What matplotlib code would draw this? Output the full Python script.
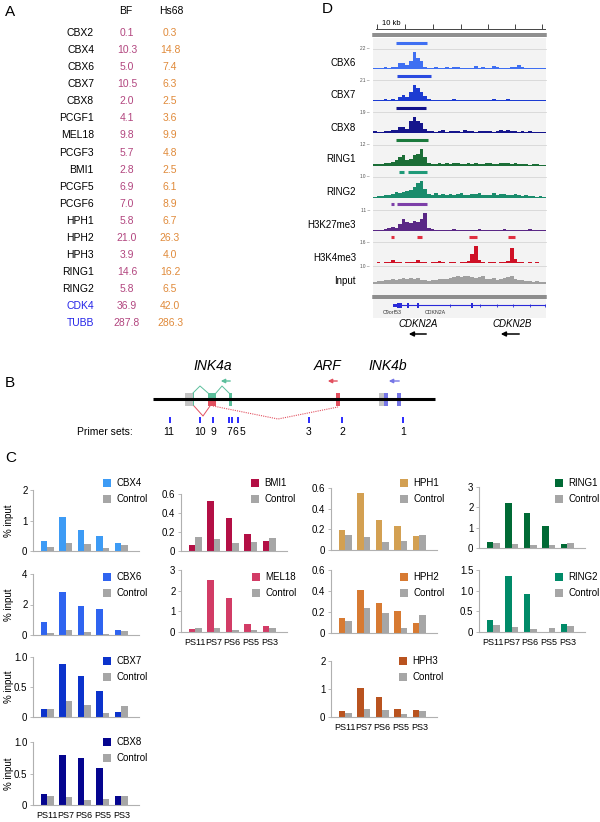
import numpy as np
import matplotlib
matplotlib.use('Agg')
import matplotlib.pyplot as plt
from matplotlib.patches import Rectangle, Patch

plt.rcParams['font.family'] = ['Liberation Sans', 'DejaVu Sans']

W, H = 600, 822

# ---- panel A: table of values
a_genes = ['CBX2', 'CBX4', 'CBX6', 'CBX7', 'CBX8', 'PCGF1', 'MEL18', 'PCGF3', 'BMI1',
           'PCGF5', 'PCGF6', 'HPH1', 'HPH2', 'HPH3', 'RING1', 'RING2', 'CDK4', 'TUBB']
a_bf = [0.1, 10.3, 5.0, 10.5, 2.0, 4.1, 9.8, 5.7, 2.8, 6.9, 7.0, 5.8, 21.0, 3.9, 14.6, 5.8, 36.9, 287.8]
a_hs68 = [0.3, 14.8, 7.4, 6.3, 2.5, 3.6, 9.9, 4.8, 2.5, 6.1, 8.9, 6.7, 26.3, 4.0, 16.2, 6.5, 42.0, 286.3]

# ---- panel B: locus cartoon
b_primers = ['11', '10', '9', '7', '6', '5', '3', '2', '1']
b_primer_x = [170, 200, 213, 229, 232, 238, 309, 342, 403]
b_primer_lab_x = [169, 200, 213, 229, 235, 242, 309, 342, 403]

# ---- panel C: ChIP, % input
ps_labels = ['PS11', 'PS7', 'PS6', 'PS5', 'PS3']
cbx4 = [0.32, 1.10, 0.68, 0.48, 0.25]
cbx4_ctrl = [0.13, 0.25, 0.22, 0.11, 0.19]
cbx6 = [0.88, 2.84, 1.88, 1.72, 0.30]
cbx6_ctrl = [0.12, 0.30, 0.22, 0.07, 0.23]
cbx7 = [0.14, 0.88, 0.69, 0.43, 0.09]
cbx7_ctrl = [0.14, 0.27, 0.20, 0.07, 0.18]
cbx8 = [0.17, 0.79, 0.75, 0.58, 0.14]
cbx8_ctrl = [0.15, 0.13, 0.08, 0.09, 0.14]
bmi1 = [0.06, 0.53, 0.35, 0.18, 0.11]
bmi1_ctrl = [0.15, 0.13, 0.08, 0.09, 0.14]
mel18 = [0.16, 2.50, 1.64, 0.39, 0.30]
mel18_ctrl = [0.20, 0.17, 0.09, 0.10, 0.19]
hph1 = [0.19, 0.55, 0.29, 0.23, 0.14]
hph1_ctrl = [0.15, 0.13, 0.08, 0.09, 0.15]
hph2 = [0.14, 0.41, 0.29, 0.21, 0.10]
hph2_ctrl = [0.11, 0.235, 0.19, 0.05, 0.17]
hph3 = [0.23, 1.03, 0.72, 0.27, 0.26]
hph3_ctrl = [0.16, 0.27, 0.24, 0.10, 0.20]
ring1 = [0.29, 2.20, 1.73, 1.06, 0.19]
ring1_ctrl = [0.24, 0.18, 0.14, 0.14, 0.24]
ring2 = [0.29, 1.35, 0.93, 0.0, 0.19]
ring2_ctrl = [0.16, 0.13, 0.08, 0.10, 0.14]

# ---- panel D: browser tracks (x in kb, signal in % of track height)
d_names = ['CBX6', 'CBX7', 'CBX8', 'RING1', 'RING2', 'H3K27me3', 'H3K4me3', 'Input']
d_scale = ['22', '21', '19', '12', '10', '11', '16', '10']
d_colors = ['#3f6ff2', '#1c3bd2', '#15158c', '#1b6e37', '#1a8c6c', '#5a2886', '#cf1126', '#a0a0a0']
d_peak_colors = ['#3f6ff2', '#2a4ae0', '#15158c', '#1b7a3d', '#1f9a78', '#7d3fa8', '#e03040', None]
d_peaks = [[(8.2, 19.4)], [(8.6, 20.8)], [(8.2, 19.0)], [(8.2, 19.7)],
           [(9.3, 11.1), (12.5, 19.4)], [(6.5, 7.5), (8.6, 19.4)],
           [(6.5, 7.5), (15.8, 17.6), (34.4, 37.3), (48.4, 50.9)], []]
sig_cbx6 = [4,6,5,8,5,12,10,28,30,18,40,85,55,38,12,6,5,8,4,6,10,5,8,12,6,5,7,4,14,6,8,5,6,15,8,5,6,4,8,12,18,8,6,5,4,6,5,4]
sig_cbx7 = [3,4,4,8,5,10,6,18,28,20,42,78,60,45,22,10,6,5,4,6,5,4,8,5,4,6,5,4,6,7,5,4,6,8,5,4,6,10,7,5,4,3,4,5,3,4,4,3]
sig_cbx8 = [8,6,7,10,8,14,12,28,30,18,55,75,55,48,20,8,10,7,8,12,7,9,8,10,7,12,8,9,7,10,8,11,9,7,10,12,9,14,10,8,7,9,6,8,5,6,7,5]
sig_ring1 = [8,10,9,12,15,20,28,45,50,30,35,50,55,80,45,15,10,8,12,10,14,9,12,15,10,8,14,10,12,9,11,15,12,10,8,14,12,16,10,12,9,8,10,7,9,8,6,7]
sig_ring2 = [6,8,10,12,15,18,28,22,30,35,40,50,70,80,45,20,15,22,12,18,15,20,14,18,25,16,12,20,18,22,15,12,16,24,14,18,20,15,12,18,14,10,12,8,10,6,8,5]
sig_k27 = [4,5,6,8,12,20,15,35,55,45,40,50,45,55,85,15,8,6,5,7,5,6,8,5,6,4,7,5,6,8,5,6,4,7,5,6,8,5,6,7,5,4,6,8,5,6,4,5]
sig_k4 = [2,3,2,3,4,15,4,3,2,4,3,6,12,4,3,2,3,4,10,3,2,3,4,2,3,5,8,45,80,15,3,2,3,4,2,3,4,8,70,20,4,3,2,3,2,3,2,2]
sig_input = [12,15,18,20,25,30,22,28,35,30,32,28,35,25,20,18,22,25,28,30,26,35,40,45,38,42,45,40,35,38,42,30,28,32,25,30,35,40,45,30,25,20,15,18,12,15,10,12]
d_signal = [sig_cbx6, sig_cbx7, sig_cbx8, sig_ring1, sig_ring2, sig_k27, sig_k4, sig_input]
d_ruler_kb = [1.4, 11.5, 21.5, 31.5, 41.2, 50.9, 60.6]
KB = 62.0


def box(x0, y0, x1, y1):
    return [x0 / W, 1 - y1 / H, (x1 - x0) / W, (y1 - y0) / H]


fig = plt.figure(figsize=(6, 8.22), dpi=100)
ov = fig.add_axes([0, 0, 1, 1])
ov.set_xlim(0, W)
ov.set_ylim(H, 0)
ov.axis('off')

# panel letters
for lab, x, y in [('A', 5, 12), ('D', 322, 9), ('B', 5, 383), ('C', 5, 458)]:
    ov.text(x, y, lab, fontsize=11, ha='left', va='center')

# ---------- A
ov.text(126, 11, 'BF', fontsize=7.5, ha='center', va='center')
ov.text(171, 11, 'Hs68', fontsize=7.5, ha='center', va='center')
for i, g in enumerate(a_genes):
    y = 33.3 + i * 17.03
    col = '#2323e8' if g in ('CDK4', 'TUBB') else 'black'
    ov.text(94, y, g, fontsize=7.5, ha='right', va='center', color=col)
    ov.text(127, y, '%.1f' % a_bf[i], fontsize=7.5, ha='center', va='center', color='#b2457f')
    ov.text(170, y, '%.1f' % a_hs68[i], fontsize=7.5, ha='center', va='center', color='#e08a3a')

# ---------- B
green, red, grey, blue = '#5cbf9c', '#e2505f', '#c4c4c4', '#7676e6'
ov.plot([153, 435], [399, 399], color='black', lw=2.2, solid_capstyle='butt')
ov.plot([193, 200, 208], [393, 386, 393], color=green, lw=0.7)
ov.plot([216, 222, 229], [393, 386, 393], color=green, lw=0.7)
ov.plot([194, 203, 210], [406, 416, 406], color=red, lw=0.7)
ov.plot([213, 278, 338], [406, 419, 407], color=red, lw=0.8, ls=(0, (1, 1)))
for x0, x1, c in [(185, 193, grey), (192.5, 194, green), (208, 216, green), (229, 232, green),
                  (336, 340, red), (379, 384, grey), (384, 388, blue), (397, 401, blue)]:
    ov.add_patch(Rectangle((x0, 393), x1 - x0, 13, color=c, lw=0))
ov.add_patch(Rectangle((208, 400), 8, 6, color=red, lw=0))
for lab, x in [('INK4a', 213), ('ARF', 328), ('INK4b', 388)]:
    ov.text(x, 366, lab, fontsize=10, style='italic', ha='center', va='center')
for x0, x1, c in [(233, 218, green), (340, 325, red), (402, 386, blue)]:
    ov.annotate('', xy=(x1, 381), xytext=(x0, 381),
                arrowprops=dict(arrowstyle='-|>', color=c, lw=1.0, mutation_scale=6))
ov.vlines(b_primer_x, 417, 423, color='#1a1aff', lw=1.3)
for lab, x in zip(b_primers, b_primer_lab_x):
    ov.text(x, 432, lab, fontsize=7.5, ha='center', va='center')
ov.text(133, 432, 'Primer sets:', fontsize=7.5, ha='right', va='center')

# ---------- C
ctrl_col = '#a6a6a6'
c_panels = [
    ('CBX4', cbx4, cbx4_ctrl, '#3d9bf5', [0, 1, 2], ['0', '1', '2'], 33, 490, 551, 103, 478, False, True),
    ('CBX6', cbx6, cbx6_ctrl, '#2f64f0', [0, 2, 4], ['0', '2', '4'], 33, 574, 635, 103, 572, False, True),
    ('CBX7', cbx7, cbx7_ctrl, '#0c33cc', [0, 0.5, 1.0], ['0', '0.5', '1.0'], 33, 657, 717, 103, 656, False, True),
    ('CBX8', cbx8, cbx8_ctrl, '#05058f', [0, 0.5, 1.0], ['0', '0.5', '1.0'], 33, 742, 805, 103, 737, True, True),
    ('BMI1', bmi1, bmi1_ctrl, '#b30f45', [0, 0.2, 0.4, 0.6], ['0', '0.2', '0.4', '0.6'], 181, 494, 551, 251, 478, False, False),
    ('MEL18', mel18, mel18_ctrl, '#d23c66', [0, 1, 2, 3], ['0', '1', '2', '3'], 181, 570, 632, 252, 572, True, False),
    ('HPH1', hph1, hph1_ctrl, '#d3a052', [0, 0.2, 0.4, 0.6], ['0', '0.2', '0.4', '0.6'], 331, 488, 550, 400, 478, False, False),
    ('HPH2', hph2, hph2_ctrl, '#d77a32', [0, 0.2, 0.4, 0.6], ['0', '0.2', '0.4', '0.6'], 331, 570, 633, 400, 572, False, False),
    ('HPH3', hph3, hph3_ctrl, '#b9531f', [0, 1, 2], ['0', '1', '2'], 331, 661, 717, 399, 656, True, False),
    ('RING1', ring1, ring1_ctrl, '#006a35', [0, 1, 2, 3], ['0', '1', '2', '3'], 479, 487, 548, 555, 478, False, False),
    ('RING2', ring2, ring2_ctrl, '#008a68', [0, 0.5, 1.0, 1.5], ['0', '0.5', '1.0', '1.5'], 479, 570, 632, 555, 572, True, False),
]
x = np.arange(len(ps_labels))
bw = 0.35
for name, vals, ctrl, col, ticks, tlabs, ax0, ytop, ybot, lx, ly, xlab, ylab in c_panels:
    ax = fig.add_axes(box(ax0, ytop, ax0 + 106, ybot))
    ax.bar(x - bw / 2, vals, bw, color=col, lw=0)
    ax.bar(x + bw / 2, ctrl, bw, color=ctrl_col, lw=0)
    ax.set_xlim(-0.76, 4.95)
    ax.set_ylim(0, ticks[-1])
    ax.set_yticks(ticks)
    ax.set_yticklabels(tlabs)
    ax.patch.set_alpha(0)
    for s in ['top', 'right']:
        ax.spines[s].set_visible(False)
    for s in ['left', 'bottom']:
        ax.spines[s].set_color('#b0b0b0')
        ax.spines[s].set_linewidth(0.8)
    ax.tick_params(axis='y', length=2, width=0.6, color='#b0b0b0', labelsize=7, pad=2)
    ax.set_xticks(x)
    if xlab:
        ax.set_xticklabels(ps_labels)
        ax.tick_params(axis='x', length=0, labelsize=6.5, pad=4)
    else:
        ax.set_xticklabels([])
        ax.tick_params(axis='x', length=0)
    if ylab:
        ov.text(9, (ytop + ybot) / 2, '% input', rotation=90, fontsize=7, ha='center', va='center')
    ax.legend(handles=[Patch(color=col, lw=0), Patch(color=ctrl_col, lw=0)], labels=[name, 'Control'],
              loc='upper left', bbox_to_anchor=(lx / W, 1 - ly / H), bbox_transform=fig.transFigure,
              frameon=False, fontsize=7, handlelength=0.85, handleheight=0.85, handletextpad=0.5,
              labelspacing=0.65, borderpad=0, borderaxespad=0)

# ---------- D
ov.add_patch(Rectangle((373, 38), 173, 280, color='#f3f3f3', lw=0))
ov.plot([373, 546], [34, 34], color='#6e6e6e', lw=1.1)
ov.plot([373, 546], [36.5, 36.5], color='#6e6e6e', lw=1.1)
ov.plot([373, 546], [296, 296], color='#6e6e6e', lw=1.1)
ov.plot([373, 546], [298.5, 298.5], color='#6e6e6e', lw=1.1)

rul = fig.add_axes(box(373, 20, 546, 30))
rul.set_xlim(0, KB)
rul.set_ylim(0, 1)
rul.axis('off')
rul.plot([1.0, KB], [0.1, 0.1], color='#444444', lw=0.7)
rul.vlines(d_ruler_kb, 0.1, 0.55, color='#444444', lw=0.7)
rul.text(3.2, 0.65, '10 kb', fontsize=5.5, ha='left', va='center')

d_top = [49, 80, 112, 145, 177, 210, 242, 266]
d_base = [69, 101, 133, 166, 198, 231, 263, 284]
d_bar_y = [43, 76, 108, 140, 172, 204, 237, None]
d_label_y = [63, 95, 128, 159, 192, 225, 258, 281]
for i, name in enumerate(d_names):
    top, base = d_top[i], d_base[i]
    ov.plot([373, 546], [top, top], color='#d6d6d6', lw=0.6)
    ov.text(370, top, d_scale[i] + ' \u2013', fontsize=3.5, color='#555555', ha='right', va='center')
    ov.text(356, d_label_y[i], name, fontsize=7, ha='right', va='center')
    ax = fig.add_axes(box(373, top - 10, 546, base))
    ax.axis('off')
    ax.set_xlim(0, KB)
    ax.set_ylim(0, 100 * (base - top + 10) / (base - top))
    sig = d_signal[i]
    edges = np.linspace(0, KB, len(sig) + 1)
    ax.bar(edges[:-1], sig, width=KB / len(sig), align='edge', color=d_colors[i], lw=0)
    ax.plot([0.5, KB], [1, 1], color=d_colors[i], lw=0.6)
    if d_bar_y[i] is not None:
        yb = 100 * (base - d_bar_y[i]) / (base - top)
        for p0, p1 in d_peaks[i]:
            ax.plot([p0, p1], [yb, yb], color=d_peak_colors[i], lw=2.2, solid_capstyle='butt')

gm = fig.add_axes(box(373, 299, 546, 316))
gm.set_xlim(0, KB)
gm.set_ylim(0, 1)
gm.axis('off')
gcol = '#2a2ad8'
gm.plot([9.7, KB], [0.62, 0.62], color=gcol, lw=0.8)
gm.add_patch(Rectangle((8.6, 0.45), 1.8, 0.34, color=gcol, lw=0))
gm.add_patch(Rectangle((7.2, 0.52), 1.4, 0.2, color=gcol, lw=0))
for g0 in [12.2, 15.8, 35.1]:
    gm.add_patch(Rectangle((g0, 0.45), 0.6, 0.34, color=gcol, lw=0))
gm.vlines([27.6, 38.4, 44.4, 50.2, 56.3, 61.8], 0.55, 0.69, color=gcol, lw=0.6)
gm.text(7.0, 0.22, 'C9orf53', fontsize=3.8, ha='center', va='center', color='#333333')
gm.text(22.2, 0.22, 'CDKN2A', fontsize=3.8, ha='center', va='center', color='#333333')

for lab, xc, x0, x1 in [('CDKN2A', 418, 429, 406), ('CDKN2B', 512, 522, 498)]:
    ov.text(xc, 324, lab, fontsize=7, style='italic', ha='center', va='center')
    ov.annotate('', xy=(x1, 334), xytext=(x0, 334),
                arrowprops=dict(arrowstyle='-|>', color='black', lw=1.1, mutation_scale=7))

fig.savefig('out.png', dpi=100)
